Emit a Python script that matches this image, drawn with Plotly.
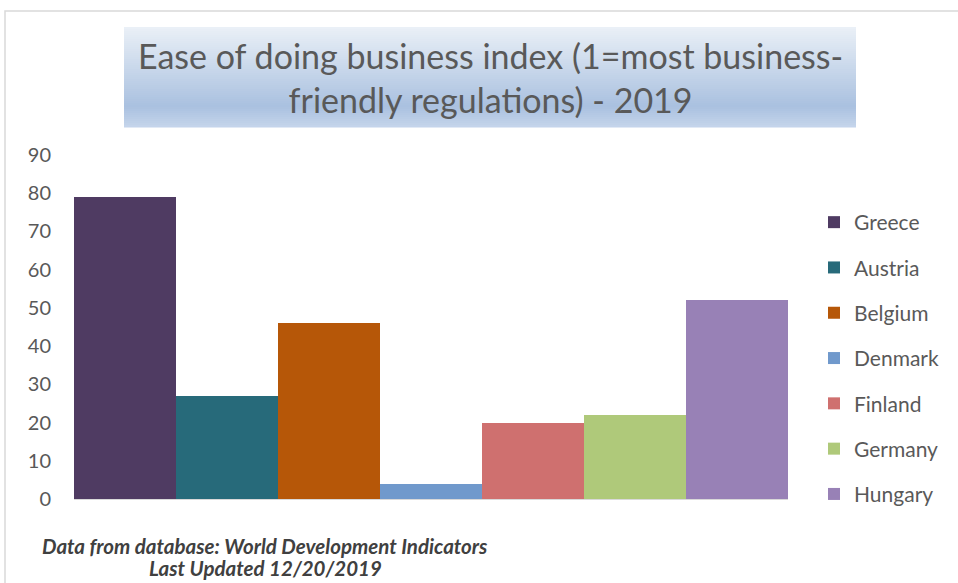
import plotly.graph_objects as go

countries = ["Greece", "Austria", "Belgium", "Denmark", "Finland", "Germany", "Hungary"]
values = [79, 27, 46, 4, 20, 22, 52]
colors = ["#4f3b62", "#276a7a", "#b65708", "#7099cc", "#cf706f", "#afc97a", "#9881b6"]
y_ticks = [0, 10, 20, 30, 40, 50, 60, 70, 80, 90]

W, H = 958, 583
L, R, T, B = 74, 958 - 788, 155, 583 - 499
pw = W - L - R
ph = H - T - B

def px_x(x):
    return (x - L) / pw

def px_y(y):
    return (H - B - y) / ph

fig = go.Figure()
for i, (c, v) in enumerate(zip(countries, values)):
    fig.add_trace(go.Bar(
        x=["2019"], y=[v], name=c, marker=dict(color=colors[i], line=dict(width=0)),
        legendgroup=c, hoverinfo="name+y",
    ))

shapes = []
# outer frame
shapes.append(dict(type="rect", xref="paper", yref="paper",
                   x0=px_x(5), x1=px_x(1000), y0=px_y(700), y1=px_y(11),
                   line=dict(color="#d9d9d9", width=1.5), fillcolor="rgba(0,0,0,0)", layer="below"))
# gradient title box
top, bot = 27, 127
n = 50
c_top = (234, 240, 247)
c_mid = (170, 193, 224)
c_bot = (196, 212, 235)
for k in range(n):
    f = k / (n - 1)
    if f < 0.8:
        t = f / 0.8
        col = tuple(int(c_top[j] + (c_mid[j] - c_top[j]) * t) for j in range(3))
    else:
        t = (f - 0.8) / 0.2
        col = tuple(int(c_mid[j] + (c_bot[j] - c_mid[j]) * t) for j in range(3))
    y0 = top + (bot - top) * k / n
    y1 = top + (bot - top) * (k + 1) / n
    shapes.append(dict(type="rect", xref="paper", yref="paper",
                       x0=px_x(124), x1=px_x(856), y0=px_y(y1 + 0.5), y1=px_y(y0),
                       line=dict(width=0), fillcolor="rgb(%d,%d,%d)" % col, layer="below"))

annotations = [
    dict(text="Ease of doing business index (1=most business-<br>friendly regulations) - 2019",
         xref="paper", yref="paper", x=px_x(490), y=px_y(77), xanchor="center", yanchor="middle",
         showarrow=False, align="center",
         font=dict(family="Lato", size=34, color="#595959")),
    dict(text="<b><i>Data from database: World Development Indicators</i></b>",
         xref="paper", yref="paper", x=px_x(265), y=px_y(546), xanchor="center", yanchor="middle",
         showarrow=False, font=dict(family="Lato", size=20.5, color="#404040")),
    dict(text="<b><i>Last Updated 12/20/2019</i></b>",
         xref="paper", yref="paper", x=px_x(265), y=px_y(568), xanchor="center", yanchor="middle",
         showarrow=False, font=dict(family="Lato", size=20.5, color="#404040")),
]

fig.update_layout(
    width=W, height=H,
    margin=dict(l=L, r=R, t=T, b=B, autoexpand=False),
    paper_bgcolor="white", plot_bgcolor="white",
    barmode="group", bargap=0, bargroupgap=0,
    showlegend=True,
    legend=dict(x=px_x(814), y=px_y(202), xanchor="left", yanchor="top",
                font=dict(family="Lato", size=21, color="#595959"),
                tracegroupgap=15, bgcolor="rgba(0,0,0,0)"),
    shapes=shapes, annotations=annotations,
    xaxis=dict(showticklabels=False, showgrid=False, zeroline=False, showline=True,
               linecolor="#d9d9d9", linewidth=1, ticks=""),
    yaxis=dict(range=[0, 90], tickvals=y_ticks, showgrid=False, zeroline=False, showline=False,
               tickfont=dict(family="Lato", size=20, color="#595959"), ticks="", ticklabelstandoff=22),
)

fig.write_html("out.html", config={"displayModeBar": False},
               post_script="document.body.style.margin='0';")
